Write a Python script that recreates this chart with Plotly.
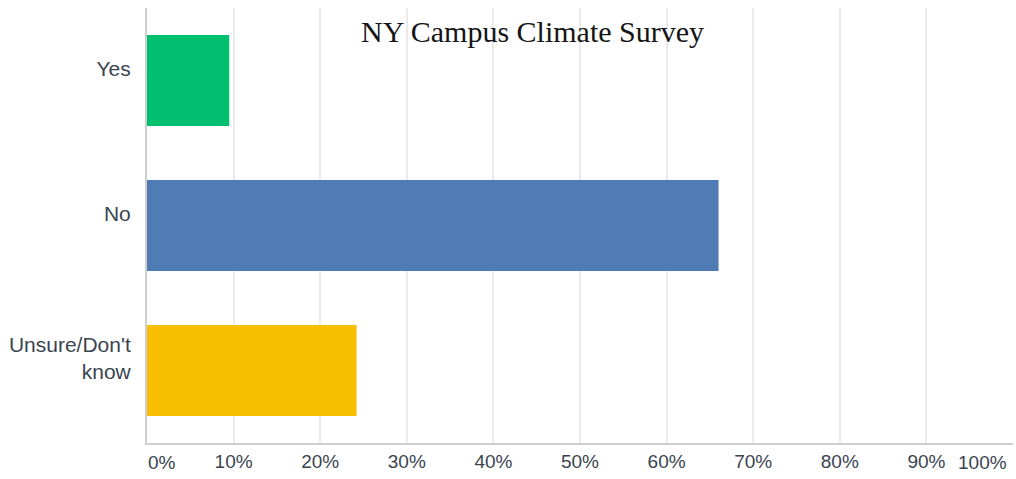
import plotly.graph_objects as go

# Survey responses (share of respondents, %)
categories = ["Yes", "No", "Unsure/Don't<br>know"]
percent = [9.5, 66.0, 24.2]
bar_colors = ["#00BF6F", "#507CB5", "#F8BE00"]

# x-axis ticks; the two end labels are placed separately so they sit inside the frame
tick_vals = [0, 10, 20, 30, 40, 50, 60, 70, 80, 90, 100]
tick_text = ["", "10%", "20%", "30%", "40%", "50%", "60%", "70%", "80%", "90%", ""]
end_labels = [(0, "0%", "left"), (100, "100%", "right")]

title_text = "NY Campus Climate Survey"

label_color = "#3a4450"
axis_color = "#cfcfcf"
grid_color = "#ebebeb"

fig = go.Figure(
    go.Bar(
        x=percent,
        y=categories,
        orientation="h",
        marker=dict(color=bar_colors, line=dict(width=0)),
        width=0.628,
        hoverinfo="skip",
    )
)

annotations = []
for val, txt, anchor in end_labels:
    annotations.append(
        dict(
            x=val, xref="x", y=0, yref="paper",
            text=txt, showarrow=False,
            xanchor=anchor, yanchor="middle",
            yshift=-19, xshift=(-4 if anchor == "right" else -1),
            font=dict(family="Liberation Sans, Arial, sans-serif", size=19, color=label_color),
        )
    )
annotations.append(
    dict(
        x=0.445, xref="paper", y=0.945, yref="paper",
        text=title_text, showarrow=False,
        xanchor="center", yanchor="middle",
        font=dict(family="Liberation Serif, Times New Roman, serif", size=30, color="#151515"),
    )
)

fig.update_layout(
    width=1016,
    height=479,
    margin=dict(l=147, r=3, t=8, b=36),
    paper_bgcolor="white",
    plot_bgcolor="white",
    showlegend=False,
    bargap=0.372,
    annotations=annotations,
    xaxis=dict(
        range=[0, 100],
        tickvals=tick_vals,
        ticktext=tick_text,
        showgrid=True,
        gridcolor=grid_color,
        gridwidth=2,
        zeroline=False,
        showline=True,
        linecolor=axis_color,
        linewidth=2,
        ticks="",
        tickfont=dict(family="Liberation Sans, Arial, sans-serif", size=19, color=label_color),
        fixedrange=True,
    ),
    yaxis=dict(
        autorange="reversed",
        showgrid=False,
        zeroline=False,
        showline=True,
        linecolor=axis_color,
        linewidth=2,
        ticks="",
        ticklabelstandoff=10,
        ticklabelshift=12,
        tickfont=dict(family="Liberation Sans, Arial, sans-serif", size=21, color=label_color),
        fixedrange=True,
    ),
)

fig.write_html("out.html", config={"displayModeBar": False})
